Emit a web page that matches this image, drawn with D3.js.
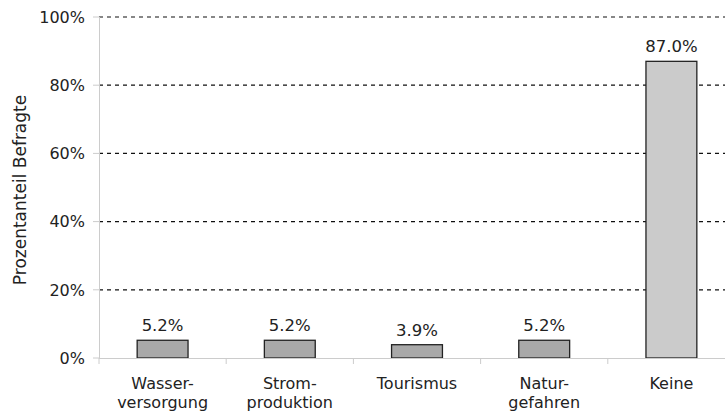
<!DOCTYPE html>
<html><head><meta charset="utf-8">
<script src="https://cdn.jsdelivr.net/npm/d3@7"></script>
<style>body{margin:0;background:#fff}svg{display:block}text{font-family:"DejaVu Sans",Verdana,sans-serif;fill:#222}</style>
</head><body><svg id="c" width="725" height="414"></svg>
<script>
const categories = [["Wasser-","versorgung"],["Strom-","produktion"],["Tourismus"],["Natur-","gefahren"],["Keine"]];
const values = [5.2, 5.2, 3.9, 5.2, 87.0];
const valueLabels = ["5.2%","5.2%","3.9%","5.2%","87.0%"];
const yTicks = [0,20,40,60,80,100];
const fills = ["#a9a9a9","#a9a9a9","#a9a9a9","#a9a9a9","#cbcbcb"];

const svg = d3.select("#c");
const x0 = 99, x1 = 735;
const x = d3.scaleBand().domain(d3.range(values.length)).range([x0,x1]).paddingInner(0.6).paddingOuter(0.3);
const xTick = d3.scaleLinear().domain([0,5]).range([x0,x1]);
const y = d3.scaleLinear().domain([0,100]).range([358,17]);

// grid
svg.append("g").selectAll("line").data(yTicks.filter(d=>d>0)).join("line")
  .attr("x1",x0).attr("x2",725).attr("y1",d=>y(d)).attr("y2",d=>y(d))
  .attr("stroke","#111").attr("stroke-width",1.2).attr("stroke-dasharray","4,4");
// left axis line
svg.append("line").attr("x1",x0+0.5).attr("x2",x0+0.5).attr("y1",y(100)).attr("y2",y(0)).attr("stroke","#ccc");
// y ticks
svg.append("g").selectAll("line").data(yTicks).join("line")
  .attr("x1",x0-6).attr("x2",x0).attr("y1",d=>y(d)).attr("y2",d=>y(d)).attr("stroke","#ccc");
svg.append("g").selectAll("text").data(yTicks).join("text")
  .attr("x",85).attr("y",d=>y(d)+5.7).attr("text-anchor","end").attr("font-size",16).text(d=>d+"%");
// bars
svg.append("g").selectAll("rect").data(values).join("rect")
  .attr("x",(d,i)=>x(i)).attr("width",x.bandwidth()).attr("y",d=>y(d)).attr("height",d=>y(0)-y(d))
  .attr("fill",(d,i)=>fills[i]).attr("stroke","#222").attr("stroke-width",1.3);
// baseline axis
svg.append("line").attr("x1",x0).attr("x2",725).attr("y1",y(0)+0.5).attr("y2",y(0)+0.5).attr("stroke","#ccc");
svg.append("g").selectAll("line").data(d3.range(0,6)).join("line")
  .attr("x1",d=>xTick(d)).attr("x2",d=>xTick(d)).attr("y1",y(0)).attr("y2",y(0)+6).attr("stroke","#ccc");
// value labels
svg.append("g").selectAll("text").data(values).join("text")
  .attr("x",(d,i)=>x(i)+x.bandwidth()/2).attr("y",d=>y(d)-9).attr("text-anchor","middle").attr("font-size",16.5)
  .text((d,i)=>valueLabels[i]);
// category labels
const cg = svg.append("g").selectAll("text").data(categories).join("text")
  .attr("x",(d,i)=>x(i)+x.bandwidth()/2).attr("y",388.5).attr("text-anchor","middle").attr("font-size",16);
cg.selectAll("tspan").data(d=>d).join("tspan").attr("x",function(){return this.parentNode.getAttribute("x");})
  .attr("dy",(d,j)=>j?19:0).text(d=>d);
// y title
svg.append("text").attr("transform","translate(26,190) rotate(-90)").attr("text-anchor","middle").attr("font-size",17).text("Prozentanteil Befragte");
</script></body></html>
